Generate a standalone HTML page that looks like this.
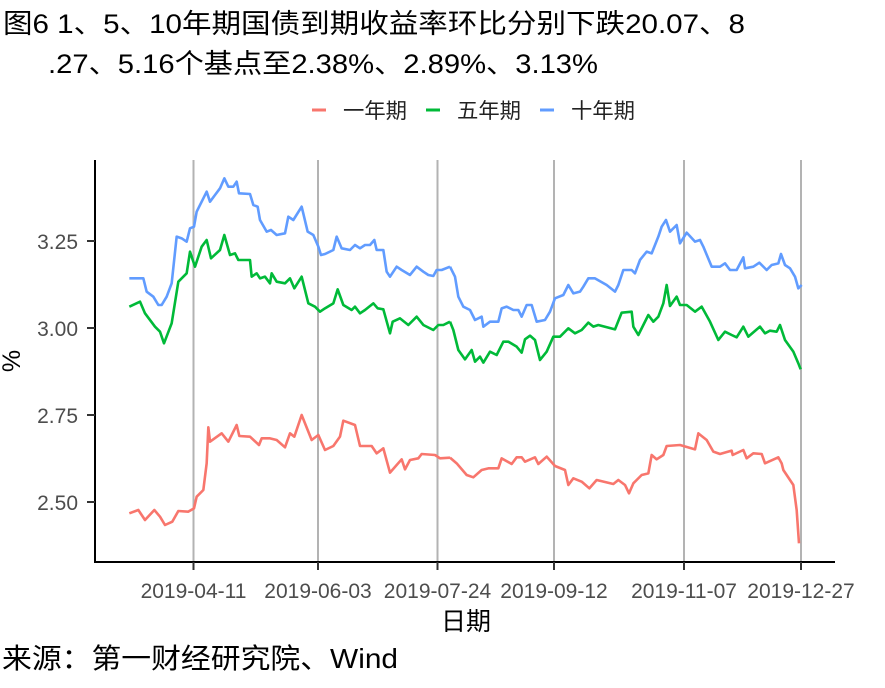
<!DOCTYPE html>
<html><head><meta charset="utf-8"><style>
body{margin:0;background:#fff;}
svg{display:block;font-family:"Liberation Sans","Noto Sans CJK SC",sans-serif;}
</style></head><body>
<svg width="885" height="688" xmlns="http://www.w3.org/2000/svg">
<rect width="885" height="688" fill="#fff"/>
<text x="3" y="33" font-size="27" fill="#000" textLength="742" lengthAdjust="spacingAndGlyphs">图6 1、5、10年期国债到期收益率环比分别下跌20.07、8</text>
<text x="48" y="73" font-size="27" fill="#000" textLength="550" lengthAdjust="spacingAndGlyphs">.27、5.16个基点至2.38%、2.89%、3.13%</text>
<g font-size="21" fill="#222">
<line x1="312" y1="110" x2="326" y2="110" stroke="#F8766D" stroke-width="3"/><text x="343" y="118" textLength="64" lengthAdjust="spacingAndGlyphs">一年期</text>
<line x1="426" y1="110" x2="440" y2="110" stroke="#00BA38" stroke-width="3"/><text x="457" y="118" textLength="64" lengthAdjust="spacingAndGlyphs">五年期</text>
<line x1="540" y1="110" x2="554" y2="110" stroke="#619CFF" stroke-width="3"/><text x="571" y="118" textLength="64" lengthAdjust="spacingAndGlyphs">十年期</text>
</g>
<g stroke="#b3b3b3" stroke-width="2">
<line x1="193.5" y1="160" x2="193.5" y2="562"/><line x1="318" y1="160" x2="318" y2="562"/>
<line x1="437.5" y1="160" x2="437.5" y2="562"/><line x1="554" y1="160" x2="554" y2="562"/>
<line x1="684" y1="160" x2="684" y2="562"/><line x1="801" y1="160" x2="801" y2="562"/>
</g>
<g fill="none" stroke-width="7.8" stroke-linejoin="round">
<g transform="translate(95,170) scale(0.33333)">
<polyline stroke="#619CFF" points="103,325 145,325 155,365 175,380 190,405 200,405 215,380 230,340 245,200 260,205 275,215 285,175 297,170 305,125 320,95 335,65 345,95 360,75 375,55 388,25 400,50 415,50 425,35 432,70 465,72 475,105 488,110 495,150 515,185 528,180 545,195 570,190 580,140 595,150 620,110 638,185 655,195 670,230 678,255 690,252 715,240 725,200 740,235 765,240 780,225 795,235 810,225 825,225 838,210 845,240 865,240 875,305 885,320 905,290 920,300 945,315 965,290 985,305 1000,315 1015,318 1025,300 1040,300 1065,290"/>
<polyline stroke="#00BA38" points="103,410 135,395 150,430 180,470 195,485 207,520 230,460 250,335 275,310 285,245 300,290 320,230 335,210 348,265 375,240 388,195 405,255 420,250 430,270 465,270 470,320 485,310 495,325 510,320 525,340 530,310 545,335 570,340 585,325 598,355 620,320 640,400 660,410 675,425 690,415 715,400 728,358 745,405 770,420 780,410 795,430 810,420 835,400 848,415 865,418 885,490 893,455 915,445 940,465 965,440 985,465 1015,480 1030,465 1045,465 1065,455"/>
<polyline stroke="#F8766D" points="103,1030 130,1020 150,1050 178,1020 195,1040 210,1065 232,1055 250,1023 280,1025 297,1015 305,980 325,960 335,880 340,772 345,815 380,790 400,815 425,765 433,798 465,800 492,825 500,805 525,805 545,810 570,832 585,790 598,800 620,735 650,810 670,795 690,840 715,828 735,800 745,752 780,765 795,828 830,828 845,850 865,835 885,908 920,868 930,898 945,870 970,865 980,852 1020,855 1035,865 1065,863"/>
</g>
<g transform="translate(450,170) scale(0.33333)">
<polyline stroke="#619CFF" points="0,290 15,320 25,380 40,410 60,420 75,450 95,440 100,470 120,455 145,455 155,415 170,410 190,420 205,420 215,440 230,405 245,405 260,455 285,450 300,425 315,385 340,375 355,345 370,370 390,365 400,350 415,325 435,325 470,345 495,365 505,345 520,300 545,300 555,310 570,270 590,245 605,250 625,200 635,170 648,150 660,185 680,165 690,220 710,188 735,215 750,210 760,230 785,290 810,290 825,280 840,300 860,300 880,262 885,295 910,290 928,278 950,300 965,285 985,280 993,252 1005,285 1020,295 1035,320 1045,355 1055,345"/>
<polyline stroke="#00BA38" points="0,455 10,480 25,540 45,568 65,540 75,575 90,560 100,578 120,545 140,555 160,515 175,515 200,530 215,548 225,508 240,497 255,510 270,570 290,545 310,500 330,500 355,475 375,490 395,480 415,458 430,470 445,465 495,478 515,428 545,425 550,470 565,495 595,435 610,455 625,440 640,400 650,345 660,408 680,380 690,405 710,405 735,425 755,410 780,455 805,510 825,485 845,495 860,502 880,470 895,500 930,470 945,490 960,482 980,485 990,465 1005,510 1030,545 1045,580 1052,598"/>
<polyline stroke="#F8766D" points="0,863 20,880 50,915 70,922 95,900 115,895 145,895 155,865 185,882 200,862 215,862 225,875 255,862 265,882 290,860 315,888 345,900 355,945 370,925 395,935 418,955 440,930 490,942 505,930 525,945 537,970 550,940 575,915 595,910 605,855 620,868 640,855 650,828 690,825 735,838 745,790 770,810 790,845 810,852 845,842 848,855 880,840 890,865 910,850 935,852 945,880 985,862 995,880 1000,900 1020,930 1030,945 1040,1020 1047,1120"/>
</g>
</g>
<g stroke="#000" stroke-width="2">
<line x1="95" y1="160" x2="95" y2="563"/><line x1="94" y1="562" x2="835" y2="562"/>
</g>
<g stroke="#333" stroke-width="2">
<line x1="87" y1="241" x2="95" y2="241"/><line x1="87" y1="328" x2="95" y2="328"/>
<line x1="87" y1="415" x2="95" y2="415"/><line x1="87" y1="502" x2="95" y2="502"/>
<line x1="193.5" y1="562" x2="193.5" y2="570"/><line x1="318" y1="562" x2="318" y2="570"/>
<line x1="437.5" y1="562" x2="437.5" y2="570"/><line x1="554" y1="562" x2="554" y2="570"/>
<line x1="684" y1="562" x2="684" y2="570"/><line x1="801" y1="562" x2="801" y2="570"/>
</g>
<g font-size="21" fill="#4d4d4d" text-anchor="end">
<text x="78" y="249">3.25</text><text x="78" y="336">3.00</text><text x="78" y="423">2.75</text><text x="78" y="510">2.50</text>
</g>
<g font-size="21" fill="#4d4d4d" text-anchor="middle">
<text x="193.5" y="598">2019-04-11</text><text x="318" y="598">2019-06-03</text><text x="437.5" y="598">2019-07-24</text>
<text x="554" y="598">2019-09-12</text><text x="684" y="598">2019-11-07</text><text x="801" y="598">2019-12-27</text>
</g>
<text x="466" y="630" font-size="25" text-anchor="middle" fill="#000">日期</text>
<text transform="translate(20,361) rotate(-90)" font-size="25" text-anchor="middle" fill="#000">%</text>
<text x="2" y="668" font-size="28" fill="#000" textLength="396" lengthAdjust="spacingAndGlyphs">来源：第一财经研究院、Wind</text>
</svg>
</body></html>
